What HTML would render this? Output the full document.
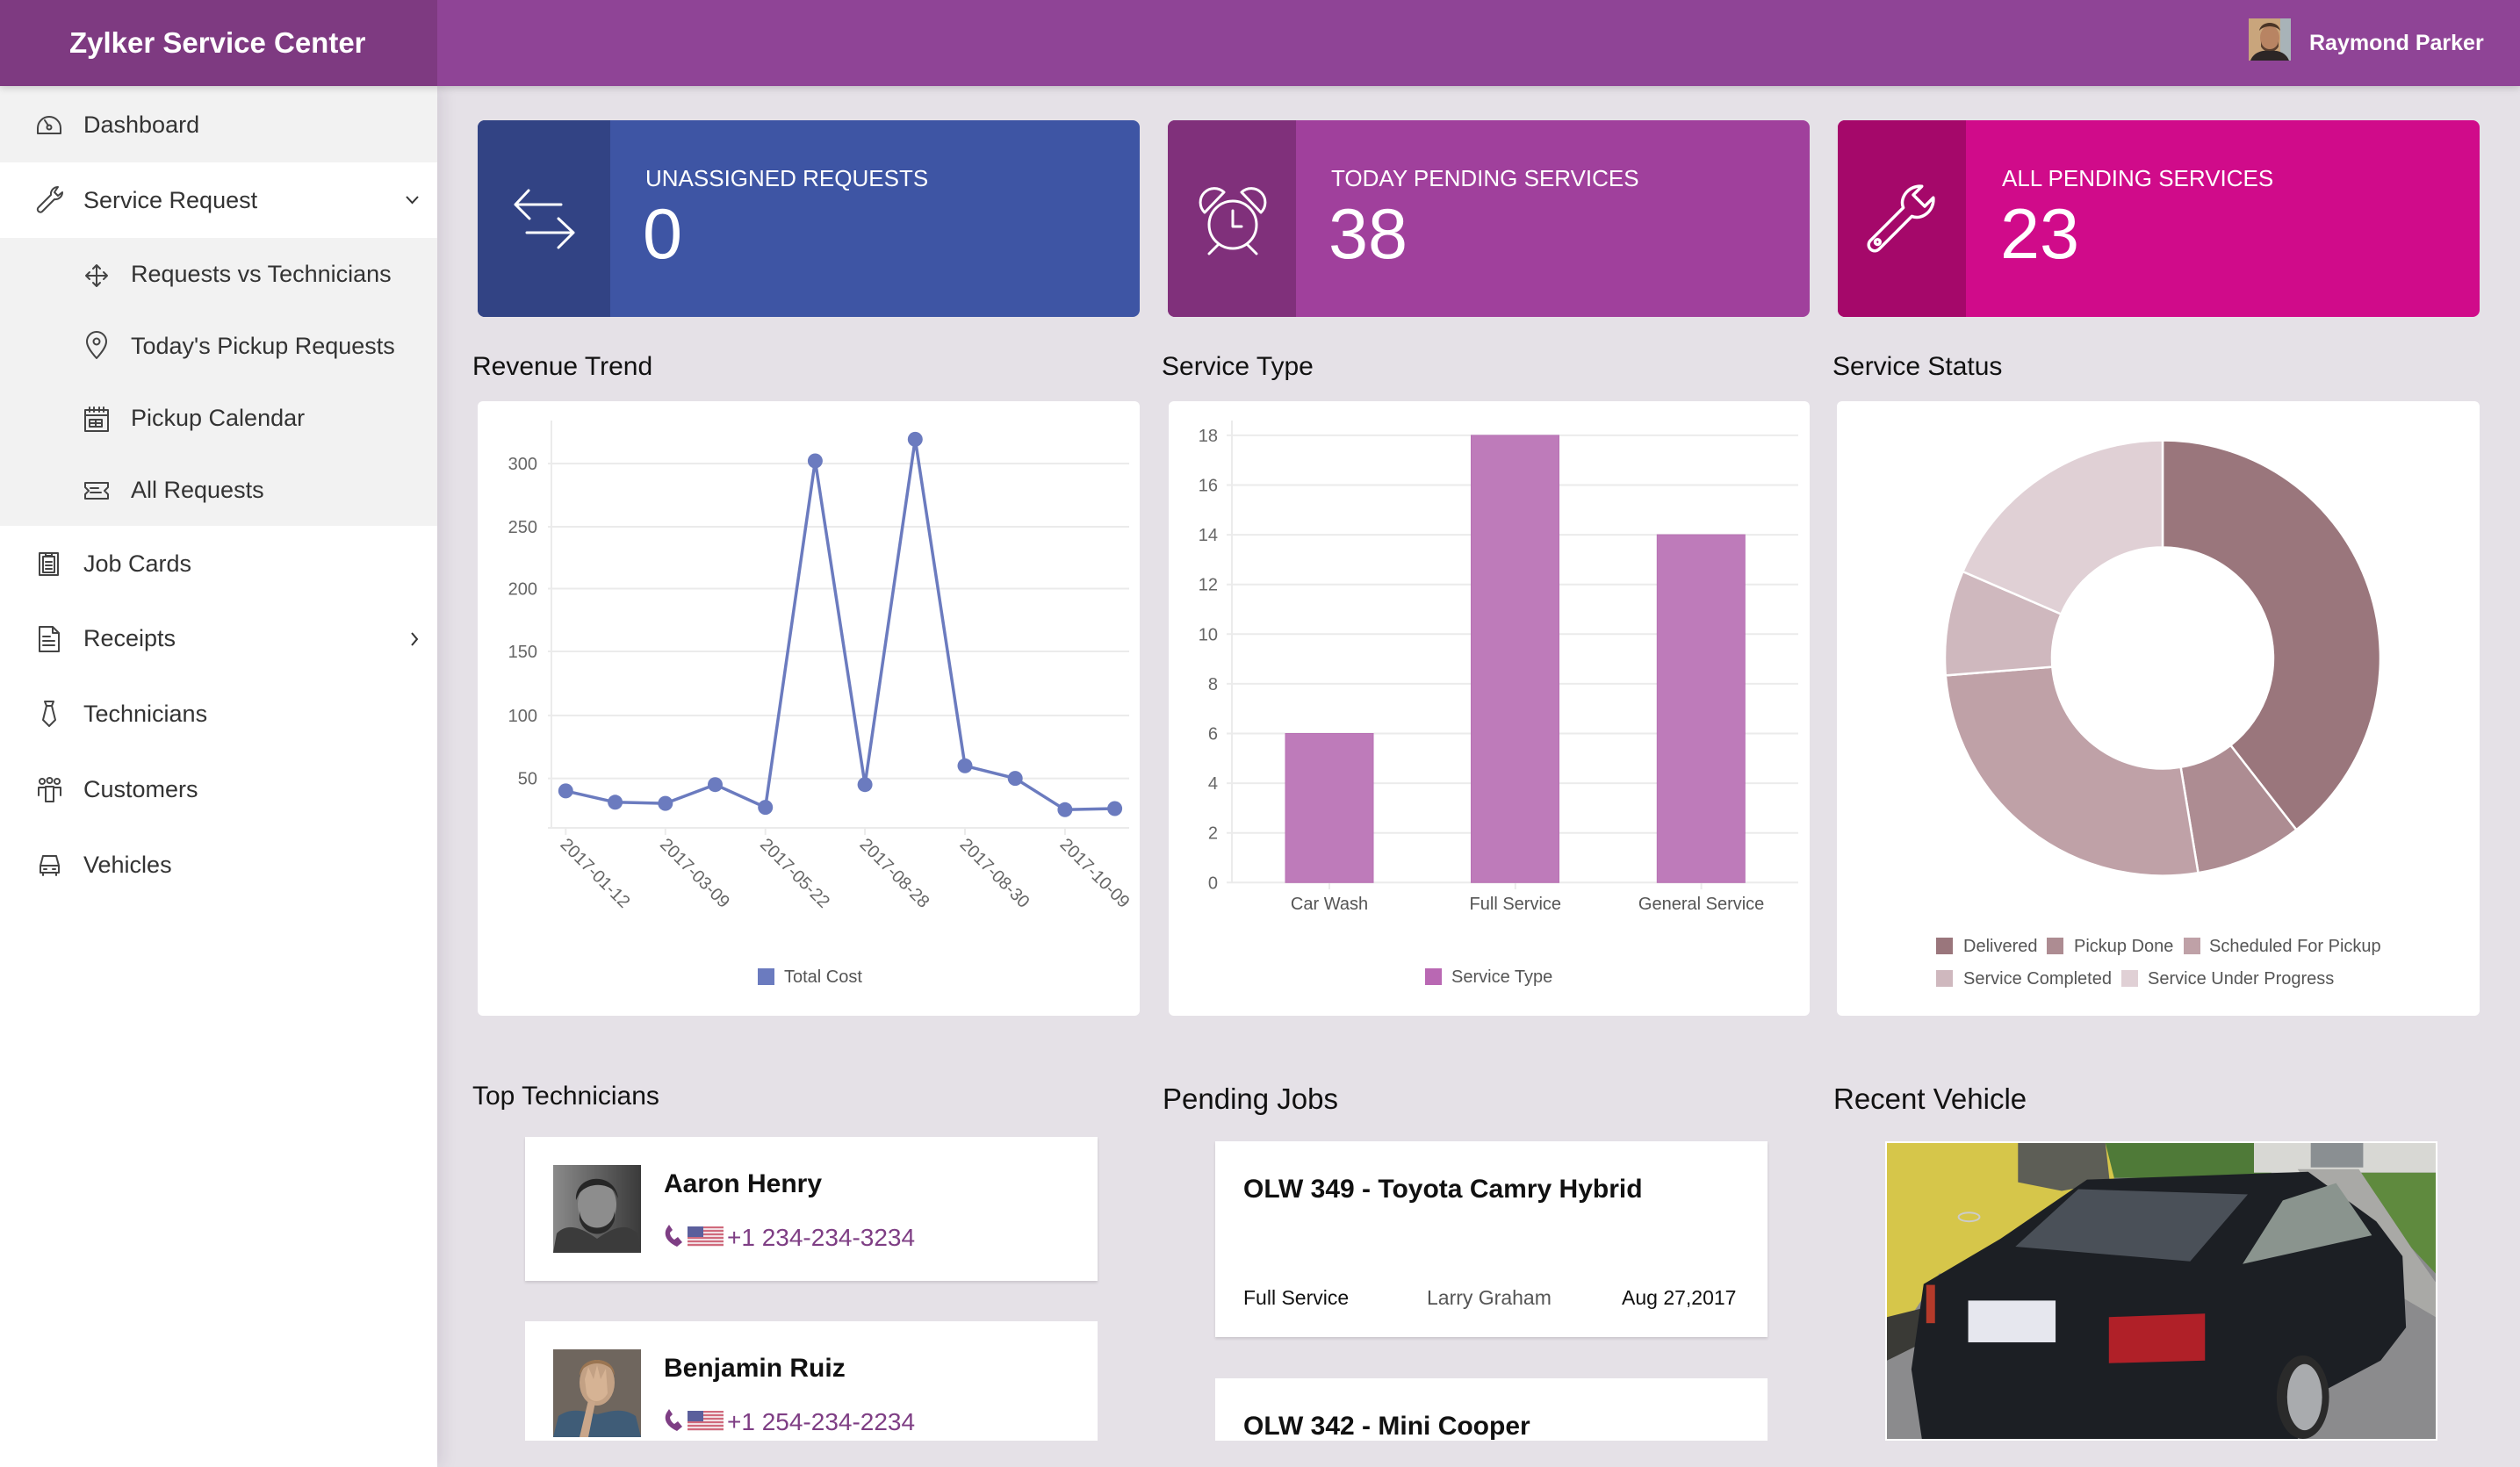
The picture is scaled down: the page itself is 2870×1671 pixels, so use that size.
<!DOCTYPE html>
<html><head><meta charset="utf-8">
<style>
*{margin:0;padding:0;box-sizing:border-box}
html,body{width:2870px;height:1671px;overflow:hidden;background:#e5e1e7;font-family:"Liberation Sans",Arial,sans-serif;}
.a{position:absolute}
.t{position:absolute;line-height:1;white-space:nowrap}
.sb{font-size:27px;color:#333}
.ct{font-size:26px;color:#fff}
.cn{font-size:81px;color:#fff}
.st{font-size:30px;color:#111}
.card{position:absolute;border-radius:8px;overflow:hidden;top:137px;height:224px}
.card .ic{position:absolute;left:0;top:0;bottom:0}
.panel{position:absolute;background:#fff;border-radius:6px;top:457px;height:700px}
.wc{position:absolute;background:#fff;box-shadow:0 2px 3px rgba(0,0,0,.12)}
.flag{position:absolute;width:41px;height:23px;background:repeating-linear-gradient(180deg,#d06a7c 0,#d06a7c 2px,#f1dde2 2px,#f1dde2 4px)}
.flag:before{content:"";position:absolute;left:0;top:0;width:18px;height:12px;background:#5b5f9c}
</style></head><body>

<!-- header -->
<div class="a" style="left:0;top:0;width:2870px;height:98px;background:#8f4496;box-shadow:0 2px 8px rgba(0,0,0,.18);z-index:3"></div>
<div class="a" style="left:0;top:0;width:498px;height:98px;background:#7e3a81;z-index:4"></div>
<div class="t" style="left:79px;top:32px;font-size:33px;font-weight:bold;color:#fff;z-index:5">Zylker Service Center</div>
<div class="a" style="left:2561px;top:21px;width:48px;height:48px;z-index:5;overflow:hidden">
<svg width="48" height="48" viewBox="0 0 48 48"><rect width="48" height="48" fill="#c9a57c"/><rect x="36" width="12" height="48" fill="#a8b3b8"/><ellipse cx="24" cy="22" rx="11" ry="14" fill="#b88463"/><path d="M12,14 C14,2 34,2 36,14 L34,12 C28,8 20,8 14,12Z" fill="#4a3426"/><path d="M14,26 C16,38 32,38 34,26 L34,32 C30,40 18,40 14,32Z" fill="#5a3f2e"/><path d="M2,48 C6,38 16,36 24,37 C32,36 42,38 46,48Z" fill="#2c2626"/></svg></div>
<div class="t" style="left:2630px;top:37px;font-size:25px;font-weight:bold;color:#fff;z-index:5">Raymond Parker</div>

<!-- sidebar -->
<div class="a" style="left:0;top:98px;width:498px;height:1573px;background:#fff;box-shadow:4px 0 18px rgba(60,30,70,.12);z-index:2"></div>
<div class="a" style="left:0;top:98px;width:498px;height:87px;background:#f2f2f2;z-index:2"></div>
<div class="a" style="left:0;top:271px;width:498px;height:328px;background:#f2f2f2;z-index:2"></div>
<div class="t sb" style="left:95px;top:129px;z-index:5">Dashboard</div>
<div class="t sb" style="left:95px;top:215px;z-index:5">Service Request</div>
<div class="t sb" style="left:149px;top:299px;z-index:5">Requests vs Technicians</div>
<div class="t sb" style="left:149px;top:381px;z-index:5">Today's Pickup Requests</div>
<div class="t sb" style="left:149px;top:463px;z-index:5">Pickup Calendar</div>
<div class="t sb" style="left:149px;top:545px;z-index:5">All Requests</div>
<div class="t sb" style="left:95px;top:629px;z-index:5">Job Cards</div>
<div class="t sb" style="left:95px;top:714px;z-index:5">Receipts</div>
<div class="t sb" style="left:95px;top:800px;z-index:5">Technicians</div>
<div class="t sb" style="left:95px;top:886px;z-index:5">Customers</div>
<div class="t sb" style="left:95px;top:972px;z-index:5">Vehicles</div>

<!-- stat cards -->
<div class="card" style="left:544px;width:754px;background:#3e55a4"><div class="ic" style="width:151px;background:#324384"></div></div>
<div class="card" style="left:1330px;width:731px;background:#a0409c"><div class="ic" style="width:146px;background:#80307b"></div></div>
<div class="card" style="left:2093px;width:731px;background:#d00b8a"><div class="ic" style="width:146px;background:#a5086a"></div></div>
<div class="t ct" style="left:735px;top:190px">UNASSIGNED REQUESTS</div>
<div class="t ct" style="left:1516px;top:190px">TODAY PENDING SERVICES</div>
<div class="t ct" style="left:2280px;top:190px">ALL PENDING SERVICES</div>
<div class="t cn" style="left:732px;top:227px">0</div>
<div class="t cn" style="left:1513px;top:227px">38</div>
<div class="t cn" style="left:2278px;top:227px">23</div>

<!-- section titles -->
<div class="t st" style="left:538px;top:403px">Revenue Trend</div>
<div class="t st" style="left:1323px;top:403px">Service Type</div>
<div class="t st" style="left:2087px;top:403px">Service Status</div>

<!-- panels -->
<div class="panel" style="left:544px;width:754px"></div>
<div class="panel" style="left:1331px;width:730px"></div>
<div class="panel" style="left:2092px;width:732px"></div>

<!-- bottom titles -->
<div class="t st" style="left:538px;top:1234px">Top Technicians</div>
<div class="t" style="left:1324px;top:1235px;font-size:33px;color:#111">Pending Jobs</div>
<div class="t" style="left:2088px;top:1235px;font-size:33px;color:#111">Recent Vehicle</div>

<!-- technicians -->
<div class="wc" style="left:598px;top:1295px;width:652px;height:164px"></div>
<div class="wc" style="left:598px;top:1505px;width:652px;height:136px;box-shadow:none"></div>
<div class="a" style="left:630px;top:1327px;width:100px;height:100px;overflow:hidden">
<svg width="100" height="100" viewBox="0 0 100 100"><defs><linearGradient id="g1" x1="0" x2="1"><stop offset="0" stop-color="#8a8a8a"/><stop offset="1" stop-color="#3a3a3a"/></linearGradient></defs><rect width="100" height="100" fill="url(#g1)"/><ellipse cx="50" cy="45" rx="22" ry="27" fill="#8d8d8d"/><path d="M26,40 C24,10 70,6 74,38 L70,30 C60,20 40,20 30,32Z" fill="#262626"/><path d="M30,52 C32,78 68,78 70,52 L70,62 C64,84 36,84 30,62Z" fill="#2a2a2a"/><path d="M0,100 L4,78 C16,66 30,70 50,84 C70,70 84,66 96,78 L100,100Z" fill="#3b3b3b"/></svg></div>
<div class="a" style="left:630px;top:1537px;width:100px;height:100px;overflow:hidden">
<svg width="100" height="100" viewBox="0 0 100 100"><rect width="100" height="100" fill="#6f665e"/><ellipse cx="50" cy="38" rx="20" ry="26" fill="#c3a184"/><path d="M30,30 C30,6 70,6 70,30 L66,22 C56,14 44,14 34,22Z" fill="#9a7552"/><path d="M36,34 L40,20 L46,34 L50,18 L54,34 L60,22 L62,50 C56,62 42,62 38,50Z" fill="#d6b394"/><path d="M0,100 L6,76 C20,66 34,70 50,74 C66,70 80,66 94,76 L100,100Z" fill="#3f5c77"/><path d="M30,100 L40,58 L48,60 L40,100Z" fill="#c9a68a"/></svg></div>
<div class="t" style="left:756px;top:1334px;font-size:30px;font-weight:bold;color:#111">Aaron Henry</div>
<div class="t" style="left:756px;top:1544px;font-size:30px;font-weight:bold;color:#111">Benjamin Ruiz</div>
<div class="flag" style="left:783px;top:1397px"></div>
<div class="flag" style="left:783px;top:1607px"></div>
<div class="t" style="left:828px;top:1396px;font-size:28px;color:#7e3e84">+1 234-234-3234</div>
<div class="t" style="left:828px;top:1606px;font-size:28px;color:#7e3e84">+1 254-234-2234</div>

<!-- pending jobs -->
<div class="wc" style="left:1384px;top:1300px;width:629px;height:223px"></div>
<div class="wc" style="left:1384px;top:1570px;width:629px;height:71px;box-shadow:none"></div>
<div class="t" style="left:1416px;top:1340px;font-size:30px;font-weight:bold;color:#111">OLW 349 - Toyota Camry Hybrid</div>
<div class="t" style="left:1416px;top:1467px;font-size:23px;color:#111">Full Service</div>
<div class="t" style="left:1625px;top:1467px;font-size:23px;color:#555">Larry Graham</div>
<div class="t" style="left:1847px;top:1467px;font-size:23px;color:#111">Aug 27,2017</div>
<div class="t" style="left:1416px;top:1610px;font-size:30px;font-weight:bold;color:#111">OLW 342 - Mini Cooper</div>

<!-- recent vehicle -->
<div class="a" style="left:2147px;top:1300px;width:629px;height:341px;background:#fff;padding:2px">
<svg width="625" height="337" viewBox="0 0 628 340" preserveAspectRatio="none" style="display:block">
<rect width="628" height="340" fill="#8b8b8d"/>
<rect x="240" y="0" width="200" height="40" fill="#4f7a38"/>
<rect x="420" y="0" width="208" height="34" fill="#d8d8d4"/>
<rect x="485" y="0" width="60" height="28" fill="#8a8f92"/>
<polygon points="520,34 628,34 628,150 600,120 560,60" fill="#5f8a3e"/>
<polygon points="470,30 540,30 600,120 628,160 628,200 560,160" fill="#a9a9a6"/>
<polygon points="0,0 250,0 260,40 240,110 200,150 60,150 0,240" fill="#d6c64a"/>
<polygon points="150,0 250,0 255,45 200,55 150,45" fill="#5d5e56"/>
<polygon points="0,200 40,190 60,220 0,250" fill="#3a3a36"/>
<polygon points="229,42 482,33 560,90 590,130 594,212 565,250 490,290 470,340 40,340 28,260 42,162 130,110" fill="#1c1f24"/>
<polygon points="147,119 219,53 413,59 347,136" fill="#4a5058"/>
<polygon points="407,139 453,66 514,46 555,106" fill="#8a948e"/>
<rect x="93" y="181" width="100" height="48" fill="#e6e7ee"/>
<polygon points="254,200 364,196 364,250 254,253" fill="#b02028"/>
<rect x="45" y="163" width="10" height="44" fill="#b43a2a"/>
<ellipse cx="476" cy="292" rx="30" ry="48" fill="#2a2a2a"/>
<ellipse cx="478" cy="292" rx="20" ry="38" fill="#a9abae"/>
<ellipse cx="94" cy="85" rx="12" ry="5" fill="none" stroke="#ccc" stroke-width="2"/>
</svg></div>

<!-- overlay svg: icons and charts -->
<svg class="a" style="left:0;top:0;z-index:10" width="2870" height="1671" viewBox="0 0 2870 1671" font-family="Liberation Sans, Arial, sans-serif">
<!-- sidebar icons -->
<g fill="none" stroke="#444" stroke-width="2" stroke-linejoin="round" stroke-linecap="round">
<path d="M43,152 H69 V146 A13,13 0 0 0 43,146 Z"/><circle cx="56" cy="145" r="2.5"/><path d="M55,143 L51,137"/>
<path d="M44,236 L58,222 A8,8 0 0 1 66,213 L62,219 L66,223 L71,219 A8,8 0 0 1 62,227 L48,241 A3,3 0 0 1 44,236 Z"/>
<path d="M110,302 V326 M98,314 H122 M106,306 L110,302 L114,306 M106,322 L110,326 L114,322 M102,310 L98,314 L102,318 M118,310 L122,314 L118,318"/>
<path d="M110,408 C101,398 99,393 99,389 A11,11 0 0 1 121,389 C121,393 119,398 110,408 Z"/><circle cx="110" cy="389" r="3.5"/>
<rect x="97" y="467" width="26" height="24"/><path d="M97,473 H123 M102,464 V469 M107,464 V469 M113,464 V469 M118,464 V469"/><rect x="102" y="478" width="14" height="8"/><path d="M109,478 V486 M102,482 H116"/>
<path d="M97,550 H123 V555 L119,559 L123,563 V568 H97 V563 L101,559 L97,555 Z M103,556 H112 M103,561 H115"/>
<rect x="45" y="630" width="21" height="25"/><rect x="49" y="634" width="13" height="18"/><path d="M52,640 H59 M52,644 H59 M52,648 H59 M52,630 V633 H59 V630"/>
<path d="M45,714 H60 L67,721 V742 H45 Z M60,714 V721 H67 M49,725 H57 M49,730 H62 M49,735 H62"/>
<path d="M51,799 H61 L59,804 L63,820 L56,827 L49,820 L53,804 Z M53,804 H59"/>
<circle cx="48" cy="890" r="3"/><circle cx="56.5" cy="889" r="3"/><circle cx="65" cy="890" r="3"/><path d="M44,906 V897 H52 M69,906 V897 H61 M52,913 V896 H61 V913 Z"/>
<path d="M46,986 L49,975 H64 L67,986 V994 H46 Z M46,986 H67 M49,997 V994 M64,997 V994 M50,990 H53 M60,990 H63"/>
</g>
<g fill="none" stroke="#333" stroke-width="2">
<polyline points="463,224 469.5,231 476,224"/>
<polyline points="469,721 475,728 469,735"/>
</g>
<!-- card icons -->
<g fill="none" stroke="#fff" stroke-width="3" stroke-linecap="round" stroke-linejoin="round">
<path d="M587,233 H639 M602,217 L587,233 L603,249"/>
<path d="M600,265 H653 M636,249 L653,265 L636,282"/>
<circle cx="1404" cy="256" r="27"/>
<path d="M1404,240 V258 H1414"/>
<path d="M1372,242 A14,14 0 0 1 1394,219 Z M1436,242 A14,14 0 0 0 1414,219 Z"/>
<path d="M1388,278 L1377,289 M1420,278 L1431,289"/>
<g transform="translate(2166,248) rotate(45) scale(1.15)">
<path d="M-6,-8 C-16,-12 -18,-28 -8,-36 L-8,-24 L8,-24 L8,-36 C18,-28 16,-12 6,-8 L6,38 A6,6 0 0 1 -6,38 Z"/>
<circle cx="0" cy="34" r="2.5"/>
</g>
</g>
<!-- phone icons -->
<path d="M760,1398 C755,1405 758,1414 771,1420 L777,1415 L772,1409 L768,1412 C765,1410 763,1407 763,1404 L766,1401 L762,1395 Z" fill="#7e3e84"/>
<path d="M760,1608 C755,1615 758,1624 771,1630 L777,1625 L772,1619 L768,1622 C765,1620 763,1617 763,1614 L766,1611 L762,1605 Z" fill="#7e3e84"/>

<!-- Revenue chart -->
<g stroke="#ebebeb" stroke-width="2">
<line x1="624" y1="528" x2="1286" y2="528"/><line x1="624" y1="600" x2="1286" y2="600"/><line x1="624" y1="670.5" x2="1286" y2="670.5"/><line x1="624" y1="742" x2="1286" y2="742"/><line x1="624" y1="815" x2="1286" y2="815"/><line x1="624" y1="886.6" x2="1286" y2="886.6"/>
<line x1="628" y1="479" x2="628" y2="943"/><line x1="624" y1="943" x2="1286" y2="943"/>
<line x1="644.3" y1="943" x2="644.3" y2="951"/><line x1="757.8" y1="943" x2="757.8" y2="951"/><line x1="871.7" y1="943" x2="871.7" y2="951"/><line x1="985.1" y1="943" x2="985.1" y2="951"/><line x1="1099" y1="943" x2="1099" y2="951"/><line x1="1212.9" y1="943" x2="1212.9" y2="951"/>
</g>
<g font-size="20" fill="#666" text-anchor="end">
<text x="612" y="535">300</text><text x="612" y="607">250</text><text x="612" y="677.5">200</text><text x="612" y="749">150</text><text x="612" y="822">100</text><text x="612" y="893.6">50</text>
</g>
<g font-size="20" fill="#666">
<text transform="translate(647,953) rotate(45)" dy="14">2017-01-12</text>
<text transform="translate(760.5,953) rotate(45)" dy="14">2017-03-09</text>
<text transform="translate(874.5,953) rotate(45)" dy="14">2017-05-22</text>
<text transform="translate(988,953) rotate(45)" dy="14">2017-08-28</text>
<text transform="translate(1102,953) rotate(45)" dy="14">2017-08-30</text>
<text transform="translate(1216,953) rotate(45)" dy="14">2017-10-09</text>
</g>
<polyline points="644.3,900.9 700.6,913.8 757.8,915.1 814.5,893.7 871.7,919.6 928.4,525 985.1,893.7 1042.3,500.4 1099,872.3 1156.2,886.6 1212.9,922.3 1269.6,921" fill="none" stroke="#6b7bbf" stroke-width="3.5" stroke-linejoin="round"/>
<g fill="#6b7bbf">
<circle cx="644.3" cy="900.9" r="8.5"/><circle cx="700.6" cy="913.8" r="8.5"/><circle cx="757.8" cy="915.1" r="8.5"/><circle cx="814.5" cy="893.7" r="8.5"/><circle cx="871.7" cy="919.6" r="8.5"/><circle cx="928.4" cy="525" r="8.5"/><circle cx="985.1" cy="893.7" r="8.5"/><circle cx="1042.3" cy="500.4" r="8.5"/><circle cx="1099" cy="872.3" r="8.5"/><circle cx="1156.2" cy="886.6" r="8.5"/><circle cx="1212.9" cy="922.3" r="8.5"/><circle cx="1269.6" cy="921" r="8.5"/>
<rect x="863" y="1103" width="19" height="19"/>
</g>
<text x="893" y="1119" font-size="20" fill="#555">Total Cost</text>

<!-- Service type chart -->
<g stroke="#ebebeb" stroke-width="2">
<line x1="1397" y1="495.9" x2="2048" y2="495.9"/><line x1="1397" y1="552.5" x2="2048" y2="552.5"/><line x1="1397" y1="609.1" x2="2048" y2="609.1"/><line x1="1397" y1="665.7" x2="2048" y2="665.7"/><line x1="1397" y1="722.3" x2="2048" y2="722.3"/><line x1="1397" y1="778.9" x2="2048" y2="778.9"/><line x1="1397" y1="835.5" x2="2048" y2="835.5"/><line x1="1397" y1="892.1" x2="2048" y2="892.1"/><line x1="1397" y1="948.7" x2="2048" y2="948.7"/><line x1="1397" y1="1005.3" x2="2048" y2="1005.3"/>
<line x1="1403" y1="479" x2="1403" y2="1005.3"/>
<line x1="1514" y1="1005" x2="1514" y2="1013"/><line x1="1725.8" y1="1005" x2="1725.8" y2="1013"/><line x1="1937.6" y1="1005" x2="1937.6" y2="1013"/>
</g>
<g font-size="20" fill="#666" text-anchor="end">
<text x="1387" y="503">18</text><text x="1387" y="559.5">16</text><text x="1387" y="616">14</text><text x="1387" y="672.7">12</text><text x="1387" y="729.3">10</text><text x="1387" y="786">8</text><text x="1387" y="842.5">6</text><text x="1387" y="899">4</text><text x="1387" y="955.7">2</text><text x="1387" y="1012.3">0</text>
</g>
<g fill="#be7bba" stroke="#b872b4" stroke-width="1">
<rect x="1464" y="835.5" width="100" height="169.8"/>
<rect x="1675.5" y="495.9" width="100" height="509.4"/>
<rect x="1887.3" y="609.1" width="100" height="396.2"/>
</g>
<g font-size="20" fill="#555" text-anchor="middle">
<text x="1514" y="1036">Car Wash</text><text x="1725.8" y="1036">Full Service</text><text x="1937.6" y="1036">General Service</text>
</g>
<rect x="1623" y="1103" width="19" height="19" fill="#b968b3"/>
<text x="1653" y="1119" font-size="20" fill="#555">Service Type</text>

<!-- Donut -->
<g stroke="#fff" stroke-width="2.5">
<path d="M2463,501.5 A248,248 0 0 1 2615.3,945.2 L2540.4,848.9 A126,126 0 0 0 2463,623.5 Z" fill="#9a767c"/>
<path d="M2615.3,945.2 A248,248 0 0 1 2503.5,994.2 L2483.6,873.8 A126,126 0 0 0 2540.4,848.9 Z" fill="#ad8c92"/>
<path d="M2503.5,994.2 A248,248 0 0 1 2215.8,769.4 L2337.4,759.6 A126,126 0 0 0 2483.6,873.8 Z" fill="#bfa1a7"/>
<path d="M2215.8,769.4 A248,248 0 0 1 2235.4,651 L2347.4,699.5 A126,126 0 0 0 2337.4,759.6 Z" fill="#cfb8be"/>
<path d="M2235.4,651 A248,248 0 0 1 2463,501.5 L2463,623.5 A126,126 0 0 0 2347.4,699.5 Z" fill="#e0d0d5"/>
</g>
<rect x="2205" y="1068" width="19" height="19" fill="#9a767c"/>
<rect x="2331" y="1068" width="19" height="19" fill="#ad8c92"/>
<rect x="2487" y="1068" width="19" height="19" fill="#bfa1a7"/>
<rect x="2205" y="1105" width="19" height="19" fill="#cfb8be"/>
<rect x="2416" y="1105" width="19" height="19" fill="#e0d0d5"/>
<g font-size="20" fill="#555">
<text x="2236" y="1084">Delivered</text>
<text x="2362" y="1084">Pickup Done</text>
<text x="2516" y="1084">Scheduled For Pickup</text>
<text x="2236" y="1121">Service Completed</text>
<text x="2446" y="1121">Service Under Progress</text>
</g>
</svg>
</body></html>
